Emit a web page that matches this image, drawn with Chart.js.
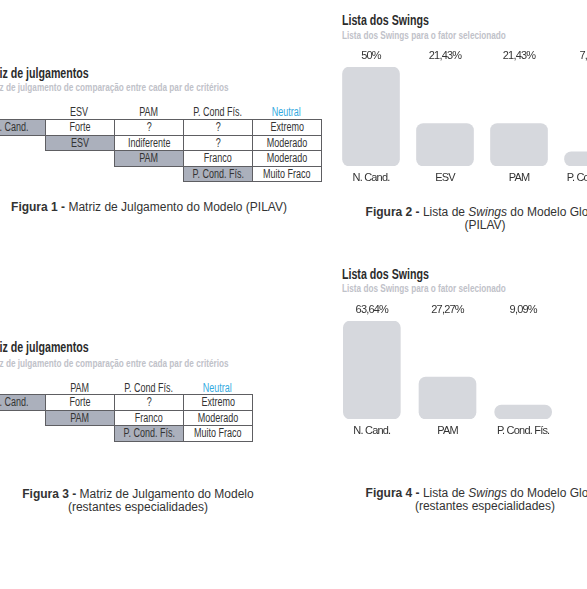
<!DOCTYPE html>
<html>
<head>
<meta charset="utf-8">
<script src="https://cdn.jsdelivr.net/npm/chart.js@4/dist/chart.umd.min.js"></script>
<style>
  body { margin: 0; width: 587px; height: 589px; overflow: hidden; background: #fff; position: relative;
         font-family: 'Liberation Sans', Arial, sans-serif; color: #333; }
  .abs { position: absolute; white-space: nowrap; }
  .ttl { font-weight: bold; font-size: 14px; line-height: 15px; color: #2b2b2b; }
  .ttl .c { display: inline-block; transform: scaleX(0.76); transform-origin: 0 50%; }
  .sub { font-weight: bold; font-size: 10.5px; line-height: 12px; color: #bfc2c9; }
  .sub .c { display: inline-block; transform: scaleX(0.78); transform-origin: 0 50%; }
  .cell { position: absolute; box-sizing: border-box; border: 1px solid #5e5e62; background: #fff;
          font-size: 12px; text-align: center; color: #333; white-space: nowrap; }
  .cell.g { background: #abb0bc; }
  .hdr { position: absolute; font-size: 12px; text-align: center; color: #333; white-space: nowrap; }
  .cell span, .hdr span { display: inline-block; transform: scaleX(0.75); transform-origin: 50% 50%; }
  .cap { position: absolute; font-size: 12px; line-height: 12.5px; text-align: center; color: #333; white-space: nowrap; }
  .box { position: absolute; }
</style>
</head>
<body>

<!-- Figura 1 -->
<div class="abs ttl" style="left:-23px; top:66px;"><span class="c">Matriz de julgamentos</span></div>
<div class="abs sub" style="left:-20.5px; top:81px;"><span class="c">Matriz de julgamento de comparação entre cada par de critérios</span></div>
<div id="tab1"></div>
<div class="cap" style="left:0; width:298px; top:201px;"><b>Figura 1 -</b> Matriz de Julgamento do Modelo (PILAV)</div>

<!-- Figura 3 -->
<div class="abs ttl" style="left:-23px; top:340px;"><span class="c">Matriz de julgamentos</span></div>
<div class="abs sub" style="left:-20.5px; top:357px;"><span class="c">Matriz de julgamento de comparação entre cada par de critérios</span></div>
<div id="tab2"></div>
<div class="cap" style="left:0; width:276px; top:488px;"><b>Figura 3 -</b> Matriz de Julgamento do Modelo<br>(restantes especialidades)</div>

<!-- Figura 2 -->
<div class="abs ttl" style="left:342px; top:13px;"><span class="c">Lista dos Swings</span></div>
<div class="abs sub" style="left:342px; top:29px;"><span class="c">Lista dos Swings para o fator selecionado</span></div>
<div class="box" style="left:334px; top:49px; width:296px; height:136px;"><canvas id="swing1"></canvas></div>
<div class="cap" style="left:335px; width:300px; top:206px;"><b>Figura 2 -</b> Lista de <i>Swings</i> do Modelo Global<br>(PILAV)</div>

<!-- Figura 4 -->
<div class="abs ttl" style="left:342px; top:267px;"><span class="c">Lista dos Swings</span></div>
<div class="abs sub" style="left:342px; top:282px;"><span class="c">Lista dos Swings para o fator selecionado</span></div>
<div class="box" style="left:334px; top:303px; width:227px; height:135px;"><canvas id="swing2"></canvas></div>
<div class="cap" style="left:335px; width:300px; top:487px;"><b>Figura 4 -</b> Lista de <i>Swings</i> do Modelo Global<br>(restantes especialidades)</div>

<script>
// matrizes de julgamento
let criterios1 = ["N. Cand.", "ESV", "PAM", "P. Cond. Fís."];
let colunas1 = ["ESV", "PAM", "P. Cond Fís.", "Neutral"];
let julgamentos1 = [
    ["Forte", "?", "?", "Extremo"],
    ["Indiferente", "?", "Moderado"],
    ["Franco", "Moderado"],
    ["Muito Fraco"]
];

let criterios2 = ["N. Cand.", "PAM", "P. Cond. Fís."];
let colunas2 = ["PAM", "P. Cond Fís.", "Neutral"];
let julgamentos2 = [
    ["Forte", "?", "Extremo"],
    ["Franco", "Moderado"],
    ["Muito Fraco"]
];

// listas dos swings
let swingCats1 = ["N. Cand.", "ESV", "PAM", "P. Cond. Fís."];
let swingVals1 = [50, 21.43, 21.43, 7.14];

let swingCats2 = ["N. Cand.", "PAM", "P. Cond. Fís."];
let swingVals2 = [63.64, 27.27, 9.09];

function desenharMatriz(id, criterios, colunas, julgamentos, x0, hdrY, y0, rowH) {
    let el = document.getElementById(id);
    let colW = 69;
    colunas.forEach(function (c, i) {
        let d = document.createElement("div");
        d.className = "hdr";
        d.innerHTML = "<span></span>";
        d.firstChild.textContent = c;
        if (c === "Neutral") d.style.color = "#32a9e0";
        d.style.left = (x0 + (i + 1) * colW) + "px";
        d.style.width = colW + "px";
        d.style.top = (hdrY - 7) + "px";
        d.style.lineHeight = "14px";
        el.appendChild(d);
    });
    criterios.forEach(function (nome, r) {
        let linha = [nome].concat(julgamentos[r]);
        linha.forEach(function (txt, k) {
            let d = document.createElement("div");
            d.className = "cell" + (k === 0 ? " g" : "");
            d.innerHTML = "<span></span>";
            d.firstChild.textContent = txt;
            d.style.left = (x0 + (r + k) * colW) + "px";
            d.style.top = (y0 + r * rowH) + "px";
            d.style.width = (colW + 1) + "px";
            d.style.height = (rowH + 1) + "px";
            d.style.lineHeight = (rowH - 1) + "px";
            el.appendChild(d);
        });
    });
}

desenharMatriz("tab1", criterios1, colunas1, julgamentos1, -24, 112, 119, 15.5);
desenharMatriz("tab2", criterios2, colunas2, julgamentos2, -24, 388, 394, 15.67);

function percent(v) {
    return String(v).replace(".", ",") + "%";
}

Chart.defaults.font.family = "'Liberation Sans', Arial, sans-serif";
Chart.defaults.font.size = 11;
Chart.defaults.color = "#333";

// letras mais juntas, para parecer a fonte condensada do original
const apertarTexto = {
    id: "apertarTexto",
    beforeLayout(chart) { chart.ctx.letterSpacing = "-0.8px"; },
    beforeDraw(chart) { chart.ctx.letterSpacing = "-0.8px"; }
};

function graficoSwings(id, cats, vals) {
    let ctx = document.getElementById(id).getContext("2d");
    return new Chart(ctx, {
        type: "bar",
        data: {
            labels: cats,
            datasets: [{
                data: vals,
                backgroundColor: "#d6d8dd",
                borderRadius: 7,
                borderSkipped: false,
                barThickness: 57
            }]
        },
        options: {
            responsive: true,
            maintainAspectRatio: false,
            animation: false,
            layout: { padding: 0 },
            plugins: { legend: { display: false }, tooltip: { enabled: false } },
            scales: {
                x: {
                    grid: { display: false, drawTicks: false },
                    border: { display: false },
                    ticks: { padding: 5, color: "#333", maxRotation: 0 },
                    afterFit: function (s) { s.height = 19; }
                },
                x2: {
                    type: "category",
                    position: "top",
                    labels: vals.map(percent),
                    grid: { display: false, drawTicks: false },
                    border: { display: false },
                    ticks: { padding: 4, color: "#333", maxRotation: 0 },
                    afterFit: function (s) { s.height = 18; }
                },
                y: {
                    display: false,
                    min: 0,
                    max: Math.max.apply(null, vals)
                }
            }
        },
        plugins: [apertarTexto]
    });
}

graficoSwings("swing1", swingCats1, swingVals1);
graficoSwings("swing2", swingCats2, swingVals2);
</script>
</body>
</html>
